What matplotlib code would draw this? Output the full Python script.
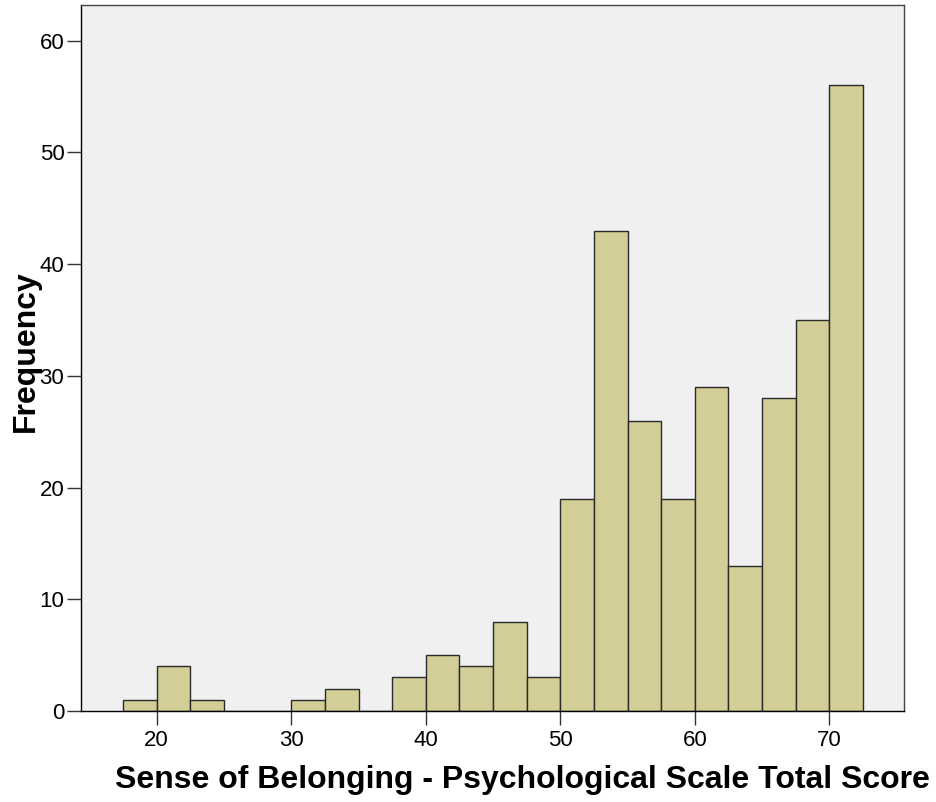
import numpy as np
import matplotlib.pyplot as plt

plt.rcParams['font.family'] = ['Liberation Sans', 'DejaVu Sans']

# Histogram bins (width 2.5) and counts
bin_edges = [17.5, 20, 22.5, 25, 27.5, 30, 32.5, 35, 37.5, 40, 42.5, 45, 47.5,
             50, 52.5, 55, 57.5, 60, 62.5, 65, 67.5, 70, 72.5]
counts = [1, 4, 1, 0, 0, 1, 2, 0, 3, 5, 4, 8, 3,
          19, 43, 26, 19, 29, 13, 28, 35, 56]
x_ticks = [20, 30, 40, 50, 60, 70]
y_ticks = [0, 10, 20, 30, 40, 50, 60]

fig = plt.figure(figsize=(9.36, 8.02), dpi=100)
ax = fig.add_axes([81 / 936, 1 - 711 / 802, (904 - 81) / 936, (711 - 5) / 802])
ax.set_facecolor('#f0f0f0')

lefts = np.array(bin_edges[:-1])
widths = np.diff(bin_edges)
ax.bar(lefts, counts, width=widths, align='edge', color='#d3ce97',
       edgecolor='#2a2a2a', linewidth=1.0)

ax.set_xlim(14.37, 75.55)
ax.set_ylim(0, 63.2)
ax.set_xticks(x_ticks)
ax.set_yticks(y_ticks)
ax.tick_params(axis='both', direction='out', length=10, width=1, color='#333333',
               labelsize=16)
ax.tick_params(axis='x', pad=4)
ax.tick_params(axis='y', pad=2)

for s in ax.spines.values():
    s.set_linewidth(1.0)
    s.set_color('#444444')
ax.spines['left'].set_color('black')
ax.spines['bottom'].set_color('black')

ax.set_xlabel('Sense of Belonging - Psychological Scale Total Score',
              fontsize=23, fontweight='bold')
ax.set_ylabel('Frequency', fontsize=23, fontweight='bold')
ax.xaxis.set_label_coords(0.536, -0.076)
ax.yaxis.set_label_coords(-0.049, 0.51)

fig.savefig('out.png', dpi=100)
